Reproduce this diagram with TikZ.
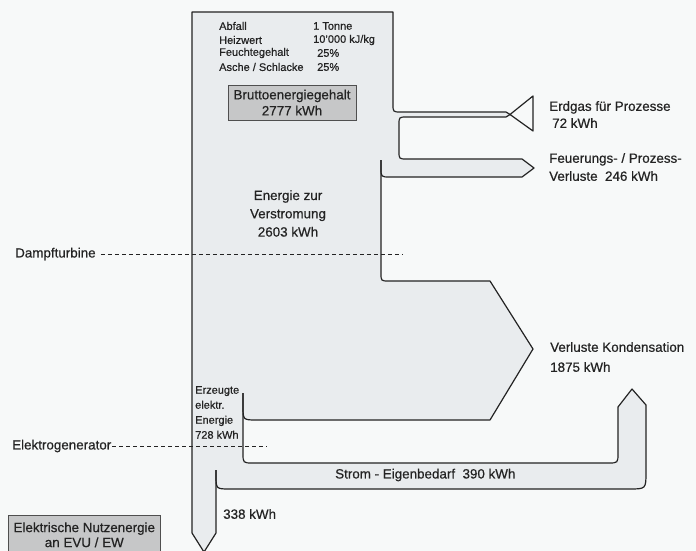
\documentclass[tikz,border=0pt]{standalone}
\usepackage{fontspec}
\setmainfont{Liberation Sans}[FakeBold=0.5]
\usepackage{xcolor}
\usepackage{tikz}
\definecolor{ink}{RGB}{35,35,35}
\definecolor{paper}{RGB}{247,249,249}
\definecolor{flow}{RGB}{233,236,238}
\definecolor{boxgray}{RGB}{198,199,200}

\begin{document}
\begin{tikzpicture}[x=1pt,y=-1pt,
  edge/.style={ink,line width=1.2pt,line join=round},
  lbl/.style={font=\fontsize{13.4}{17}\selectfont,text=ink,inner sep=0pt},
  small/.style={font=\fontsize{11}{14}\selectfont,text=ink,inner sep=0pt},
  level/.style={ink,line width=0.9pt,dash pattern=on 4pt off 3pt}]
\fill[paper] (0,0) rectangle (696,551);
\clip (0,0) rectangle (696,551);

% Flaeche
\fill[flow] (192,12) -- (393,12) -- (393,104) .. controls (393,112) .. (401,112) -- (509,112) -- (509,117) -- (407,117) .. controls (399,117) .. (399,125) -- (399,151) .. controls (399,159) .. (407,159) -- (522,159) -- (534,168) -- (522,177) -- (381,177) -- (381,273) .. controls (381,281) .. (389,281) -- (490,281) -- (533,349) -- (490,420) -- (243,420) -- (243,453) .. controls (243,463) .. (253,463) -- (608,463) .. controls (618,463) .. (618,453) -- (618,407) -- (632,389) -- (646,405) -- (646,472) .. controls (646,489) .. (629,489) -- (216,489) -- (216,533) -- (204,552) -- (192,533) -- cycle;

% Linien
\draw[edge] (192,533) -- (192,12) -- (393,12) -- (393,104) .. controls (393,112) .. (401,112) -- (506,112) -- (510,114.5);
\draw[edge] (510,114.5) -- (533,96) -- (533,131) -- cycle;
\draw[edge] (510,114.5) -- (506,117) -- (407,117) .. controls (399,117) .. (399,125) -- (399,151) .. controls (399,159) .. (407,159) -- (522,159) -- (534,168) -- (522,177) -- (390,177) .. controls (381,177) .. (381,168) -- (381,160);
\draw[edge] (381,160) -- (381,273) .. controls (381,281) .. (389,281) -- (490,281) -- (533,349) -- (490,420) -- (257,420) .. controls (243,420) .. (243,406) -- (243,393);
\draw[edge] (243,393) -- (243,453) .. controls (243,463) .. (253,463) -- (608,463) .. controls (618,463) .. (618,453) -- (618,407) -- (632,389) -- (646,405) -- (646,472) .. controls (646,489) .. (629,489) -- (230,489) .. controls (216,489) .. (216,475) -- (216,470);
\draw[edge] (216,470) -- (216,533) -- (204,552) -- (192,533);

% Tabelle
\node[small,anchor=west] (abfall) at (219,26) {Abfall};
\node[small,anchor=west] (heizwert) at (219,40) {Heizwert};
\node[small,anchor=west] (feuchte) at (219,53) {Feuchtegehalt};
\node[small,anchor=west] (asche) at (219,67) {Asche / Schlacke};
\node[small,anchor=west] (tonne) at (313,26) {1 Tonne};
\node[small,anchor=west] (hwert) at (313,40) {10'000 kJ/kg};
\node[small,anchor=west] (fwert) at (317,53) {25\%};
\node[small,anchor=west] (awert) at (317,67) {25\%};

\node[lbl,draw=ink!80,line width=0.6pt,fill=boxgray,minimum width=128pt,minimum height=35pt,align=center,font=\fontsize{13.4}{16}\selectfont] (brutto) at (292,102.5) {Bruttoenergiegehalt\\2777 kWh};
\node[lbl,align=center,font=\fontsize{13.4}{18.3}\selectfont] (verstrom) at (288,213.5) {Energie zur\\Verstromung\\2603 kWh};

\node[lbl,anchor=west,align=left] (erdgas) at (549,114.5) {Erdgas für Prozesse\\\hspace{3pt}72 kWh};
\node[lbl,anchor=west,align=left,font=\fontsize{13.4}{18}\selectfont] (feuerung) at (549,167) {Feuerungs- / Prozess-\\Verluste\ \ 246 kWh};
\node[lbl,anchor=west,align=left,font=\fontsize{13.4}{20}\selectfont] (kond) at (550,357) {Verluste Kondensation\\1875 kWh};
\node[small,anchor=west,align=left,font=\fontsize{11}{15}\selectfont] (erzeugt) at (195,412.5) {Erzeugte\\elektr.\\Energie\\728 kWh};
\node[lbl,anchor=west] (strom) at (335,475) {Strom - Eigenbedarf\ \ 390 kWh};
\node[lbl,anchor=west] (netto) at (223,514) {338 kWh};
\node[lbl,anchor=north west,draw=ink!80,line width=0.6pt,fill=boxgray,minimum width=152pt,minimum height=39pt,align=center,font=\fontsize{13.4}{15}\selectfont] (nutz) at (8,515) {Elektrische Nutzenergie\\an EVU / EW};

% Ebenen
\node[lbl,anchor=west] (dampf) at (15,254) {Dampfturbine};
\coordinate (dampfend) at (402,254);
\draw[level] ([xshift=5pt]dampf.east) -- (dampfend);
\node[lbl,anchor=west] (generator) at (12,446) {Elektrogenerator};
\coordinate (genend) at (267,446);
\draw[level] ([xshift=1pt]generator.east) -- (genend);
\end{tikzpicture}
\end{document}
